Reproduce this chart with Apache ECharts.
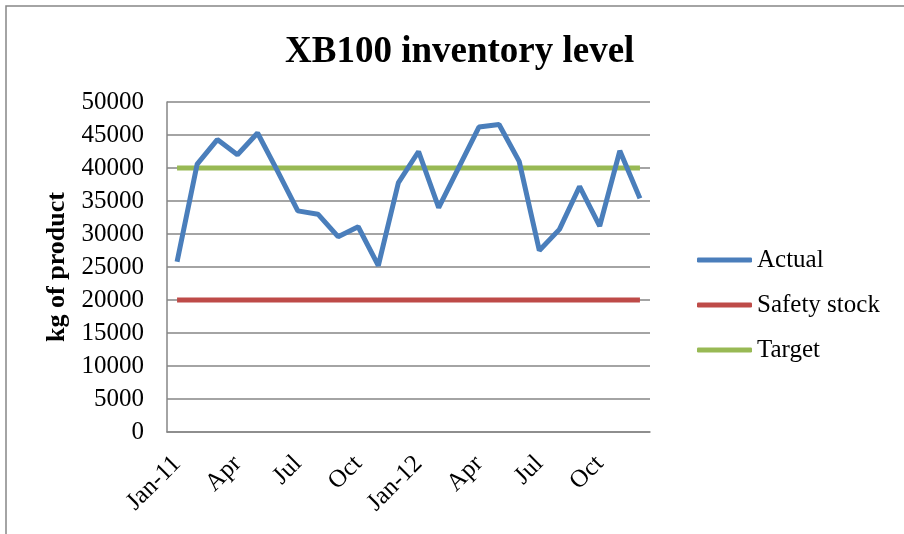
<!DOCTYPE html>
<html>
<head>
<meta charset="utf-8">
<script src="https://cdn.jsdelivr.net/npm/echarts@6/dist/echarts.min.js"></script>
<style>
  html, body { margin: 0; padding: 0; background: #fff; }
  #chart { width: 904px; height: 534px; }
</style>
</head>
<body>
<div id="chart"></div>
<script>
// 月份: Jan-11 .. Dec-12
const months = [
  'Jan-11', 'Feb', 'Mar', 'Apr', 'May', 'Jun', 'Jul', 'Aug', 'Sep', 'Oct', 'Nov', 'Dec',
  'Jan-12', 'Feb', 'Mar', 'Apr', 'May', 'Jun', 'Jul', 'Aug', 'Sep', 'Oct', 'Nov', 'Dec',
];
const actual = [
  25800, 40600, 44300, 42000, 45300, 39500, 33500, 33000, 29600, 31100, 25200, 37800,
  42500, 34000, 40100, 46200, 46600, 41000, 27500, 30700, 37200, 31200, 42600, 35400,
];
const safetyStock = months.map(() => 20000);
const target = months.map(() => 40000);

const FONT = '"Liberation Serif", "Times New Roman", serif';

const chart = echarts.init(document.getElementById('chart'));
chart.setOption({
  animation: false,
  backgroundColor: '#fff',
  textStyle: { fontFamily: FONT, color: '#000' },
  // 外边框
  graphic: [
    {
      type: 'rect',
      shape: { x: 6, y: 6, width: 1000, height: 1000 },
      style: { fill: 'none', stroke: '#868686', lineWidth: 1.5 },
    },
  ],
  title: {
    text: 'XB100 inventory level',
    left: 280,
    top: 29,
    textStyle: { fontFamily: FONT, fontSize: 37, fontWeight: 'bold', color: '#000' },
  },
  legend: {
    orient: 'vertical',
    left: 692,
    top: 240,
    itemWidth: 55,
    itemHeight: 5,
    itemGap: 15,
    icon: 'roundRect',
    textStyle: { fontFamily: FONT, fontSize: 25, color: '#000', lineHeight: 30 },
    data: ['Actual', 'Safety stock', 'Target'],
  },
  grid: {
    left: 167,
    right: 254,
    top: 102,
    bottom: 102,
  },
  xAxis: {
    type: 'category',
    data: months,
    boundaryGap: true,
    axisLine: { lineStyle: { color: '#868686', width: 1.5 } },
    axisTick: { show: false },
    axisLabel: {
      interval: 2,
      rotate: 45,
      margin: 28,
      fontFamily: FONT,
      fontSize: 25,
      color: '#000',
    },
  },
  yAxis: {
    type: 'value',
    min: 0,
    max: 50000,
    interval: 5000,
    name: 'kg of product',
    nameLocation: 'middle',
    nameGap: 90,
    nameTextStyle: { fontFamily: FONT, fontSize: 26, fontWeight: 'bold', color: '#000' },
    axisLine: { show: true, lineStyle: { color: '#868686', width: 1.5 } },
    axisTick: { show: false },
    splitLine: { lineStyle: { color: '#868686', width: 1.5 } },
    axisLabel: {
      margin: 23,
      fontFamily: FONT,
      fontSize: 25,
      color: '#000',
      formatter: (v) => String(v),
    },
  },
  series: [
    {
      name: 'Actual',
      type: 'line',
      data: actual,
      showSymbol: false,
      color: '#4A7EBB',
      lineStyle: { width: 5, color: '#4A7EBB' },
    },
    {
      name: 'Safety stock',
      type: 'line',
      data: safetyStock,
      showSymbol: false,
      color: '#BE4B48',
      lineStyle: { width: 5, color: '#BE4B48' },
    },
    {
      name: 'Target',
      type: 'line',
      data: target,
      showSymbol: false,
      color: '#98B954',
      lineStyle: { width: 5, color: '#98B954' },
      z: 1,
    },
  ],
});
</script>
</body>
</html>
